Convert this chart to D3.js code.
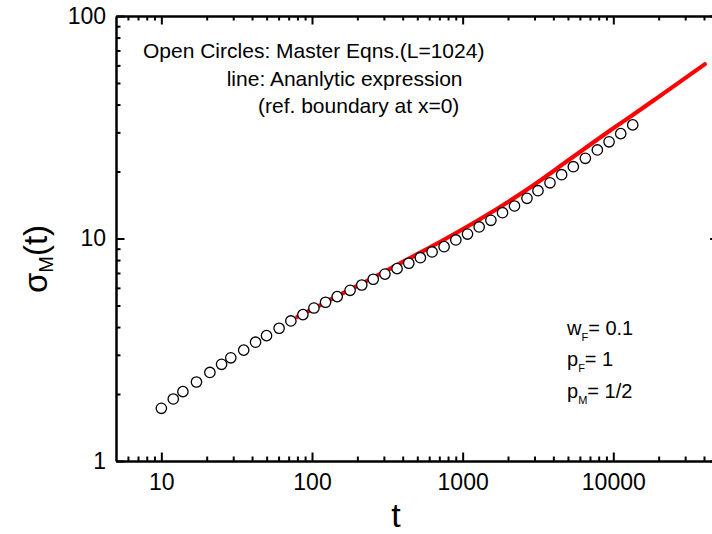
<!DOCTYPE html>
<html>
<head>
<meta charset="utf-8">
<script src="https://cdn.jsdelivr.net/npm/d3@7"></script>
<style>
  body { margin: 0; background: #fff; }
  svg { display: block; font-family: "Liberation Sans", Arial, sans-serif; }
  .axis path.domain { stroke: #000; stroke-width: 2.5; }
  .axis line { stroke: #000; stroke-width: 2; }
  .axis text { font-family: "Liberation Sans", Arial, sans-serif; font-size: 23px; fill: #000; }
</style>
</head>
<body>
<svg id="chart"></svg>
<script>
const d3 = window.d3;

// open circles: master equations (L=1024)
const tMaster = [10, 12, 13.9, 17.1, 21, 25.1, 28.9, 35.2, 42.2, 49.9,
  60.5, 72.4, 87, 103, 123, 147, 179, 214, 255, 305,
  367, 439, 524, 627, 753, 901, 1077, 1287, 1540, 1839,
  2209, 2673, 3162, 3800, 4540, 5428, 6523, 7835, 9375, 11200, 13460];
const sigmaMaster = [1.725, 1.90, 2.05, 2.265, 2.50, 2.72, 2.91, 3.15, 3.42, 3.66,
  3.95, 4.26, 4.55, 4.87, 5.17, 5.48, 5.85, 6.18, 6.56, 6.92,
  7.32, 7.74, 8.20, 8.70, 9.19, 9.85, 10.47, 11.27, 12.07, 13.06,
  14.0, 15.16, 16.4, 17.8, 19.35, 21.02, 22.93, 25.0, 27.2, 29.6, 32.4];

// red line: analytic expression
const tAnalytic = [80, 100, 150, 200, 365, 500, 1000, 2000, 3000, 5000, 10000, 13460, 20000, 40500];
const sigmaAnalytic = [4.45, 4.8, 5.55, 6.12, 7.6, 8.5, 11.0, 14.6, 17.5, 22.4, 31.3, 35.9, 43.3, 60.7];

const xMajorTicks = [10, 100, 1000, 10000];
const xMinorTicks = [6, 7, 8, 9, 20, 30, 40, 50, 60, 70, 80, 90,
  200, 300, 400, 500, 600, 700, 800, 900,
  2000, 3000, 4000, 5000, 6000, 7000, 8000, 9000, 20000, 30000, 40000, 50000];
const yMajorTicks = [1, 10, 100];
const yMinorTicks = [2, 3, 4, 5, 6, 7, 8, 9, 20, 30, 40, 50, 60, 70, 80, 90];

const noteLines = ['Open Circles: Master Eqns.(L=1024)', 'line: Ananlytic expression', '(ref. boundary at x=0)'];
const paramLines = [['w', 'F', '= 0.1'], ['p', 'F', '= 1'], ['p', 'M', '= 1/2']];

const width = 712, height = 534;
const frame = {left: 116, top: 16, right: 718.6, bottom: 461};

const svg = d3.select('#chart').attr('width', width).attr('height', height);

const x = d3.scaleLog().domain([5, 50000]).range([frame.left, frame.right]);
const y = d3.scaleLog().domain([1, 100]).range([frame.bottom, frame.top]);

function addAxis(make, scale, values, size, translate, labelPad) {
  const axis = make(scale).tickValues(values)
    .tickSizeInner(-size).tickSizeOuter(0);
  if (labelPad == null) {
    axis.tickFormat(() => '');
  } else {
    axis.tickPadding(labelPad).tickFormat(d3.format('d'));
  }
  const g = svg.append('g')
    .attr('class', 'axis')
    .attr('transform', `translate(${translate[0]},${translate[1]})`)
    .call(axis);
  g.attr('font-size', null).attr('font-family', null);
  return g;
}

// analytic line first, circles are filled white on top of it
const line = d3.line()
  .x((d, i) => x(tAnalytic[i]))
  .y(d => y(d))
  .curve(d3.curveMonotoneX);

svg.append('path')
  .attr('d', line(sigmaAnalytic))
  .attr('fill', 'none')
  .attr('stroke', '#ff0000')
  .attr('stroke-width', 4.2)
  .attr('stroke-linecap', 'round');

svg.append('g').selectAll('circle')
  .data(sigmaMaster)
  .join('circle')
  .attr('cx', (d, i) => x(tMaster[i]))
  .attr('cy', d => y(d))
  .attr('r', 5.2)
  .attr('fill', '#fff')
  .attr('stroke', '#000')
  .attr('stroke-width', 1.3);

// minor ticks (no domain line), then major ticks with the frame
for (const [make, scale, values, tr] of [
  [d3.axisBottom, x, xMinorTicks, [0, frame.bottom]],
  [d3.axisTop, x, xMinorTicks, [0, frame.top]],
  [d3.axisLeft, y, yMinorTicks, [frame.left, 0]],
  [d3.axisRight, y, yMinorTicks, [frame.right, 0]]]) {
  addAxis(make, scale, values, 4.5, tr).select('.domain').remove();
}
addAxis(d3.axisBottom, x, xMajorTicks, 8.5, [0, frame.bottom], 13);
addAxis(d3.axisTop, x, xMajorTicks, 8.5, [0, frame.top]);
addAxis(d3.axisLeft, y, yMajorTicks, 8.5, [frame.left, 0], 10);
addAxis(d3.axisRight, y, yMajorTicks, 8.5, [frame.right, 0]);

// axis titles
svg.append('text')
  .attr('x', 396)
  .attr('y', 527)
  .attr('text-anchor', 'middle')
  .attr('font-size', 34)
  .text('t');

const yTitle = svg.append('text')
  .attr('transform', 'translate(47,259) rotate(-90)')
  .attr('text-anchor', 'middle')
  .attr('font-size', 33);
yTitle.append('tspan').text('σ');
yTitle.append('tspan').attr('font-size', 20).attr('dy', 6).text('M');
yTitle.append('tspan').attr('dy', -6).text('(t)');

// notes
const noteX = [143, 226.7, 258];
svg.append('g').selectAll('text')
  .data(noteLines)
  .join('text')
  .attr('x', (d, i) => noteX[i])
  .attr('y', (d, i) => 58 + i * 27.5)
  .attr('font-size', 21)
  .text(d => d);

const paramY = [335, 366, 398];
const params = svg.append('g').selectAll('text')
  .data(paramLines)
  .join('text')
  .attr('x', 567)
  .attr('y', (d, i) => paramY[i])
  .attr('font-size', 20);
params.append('tspan').text(d => d[0]);
params.append('tspan').attr('font-size', 11).attr('dy', 6).text(d => d[1]);
params.append('tspan').attr('dy', -6).text(d => d[2]);
</script>
</body>
</html>
